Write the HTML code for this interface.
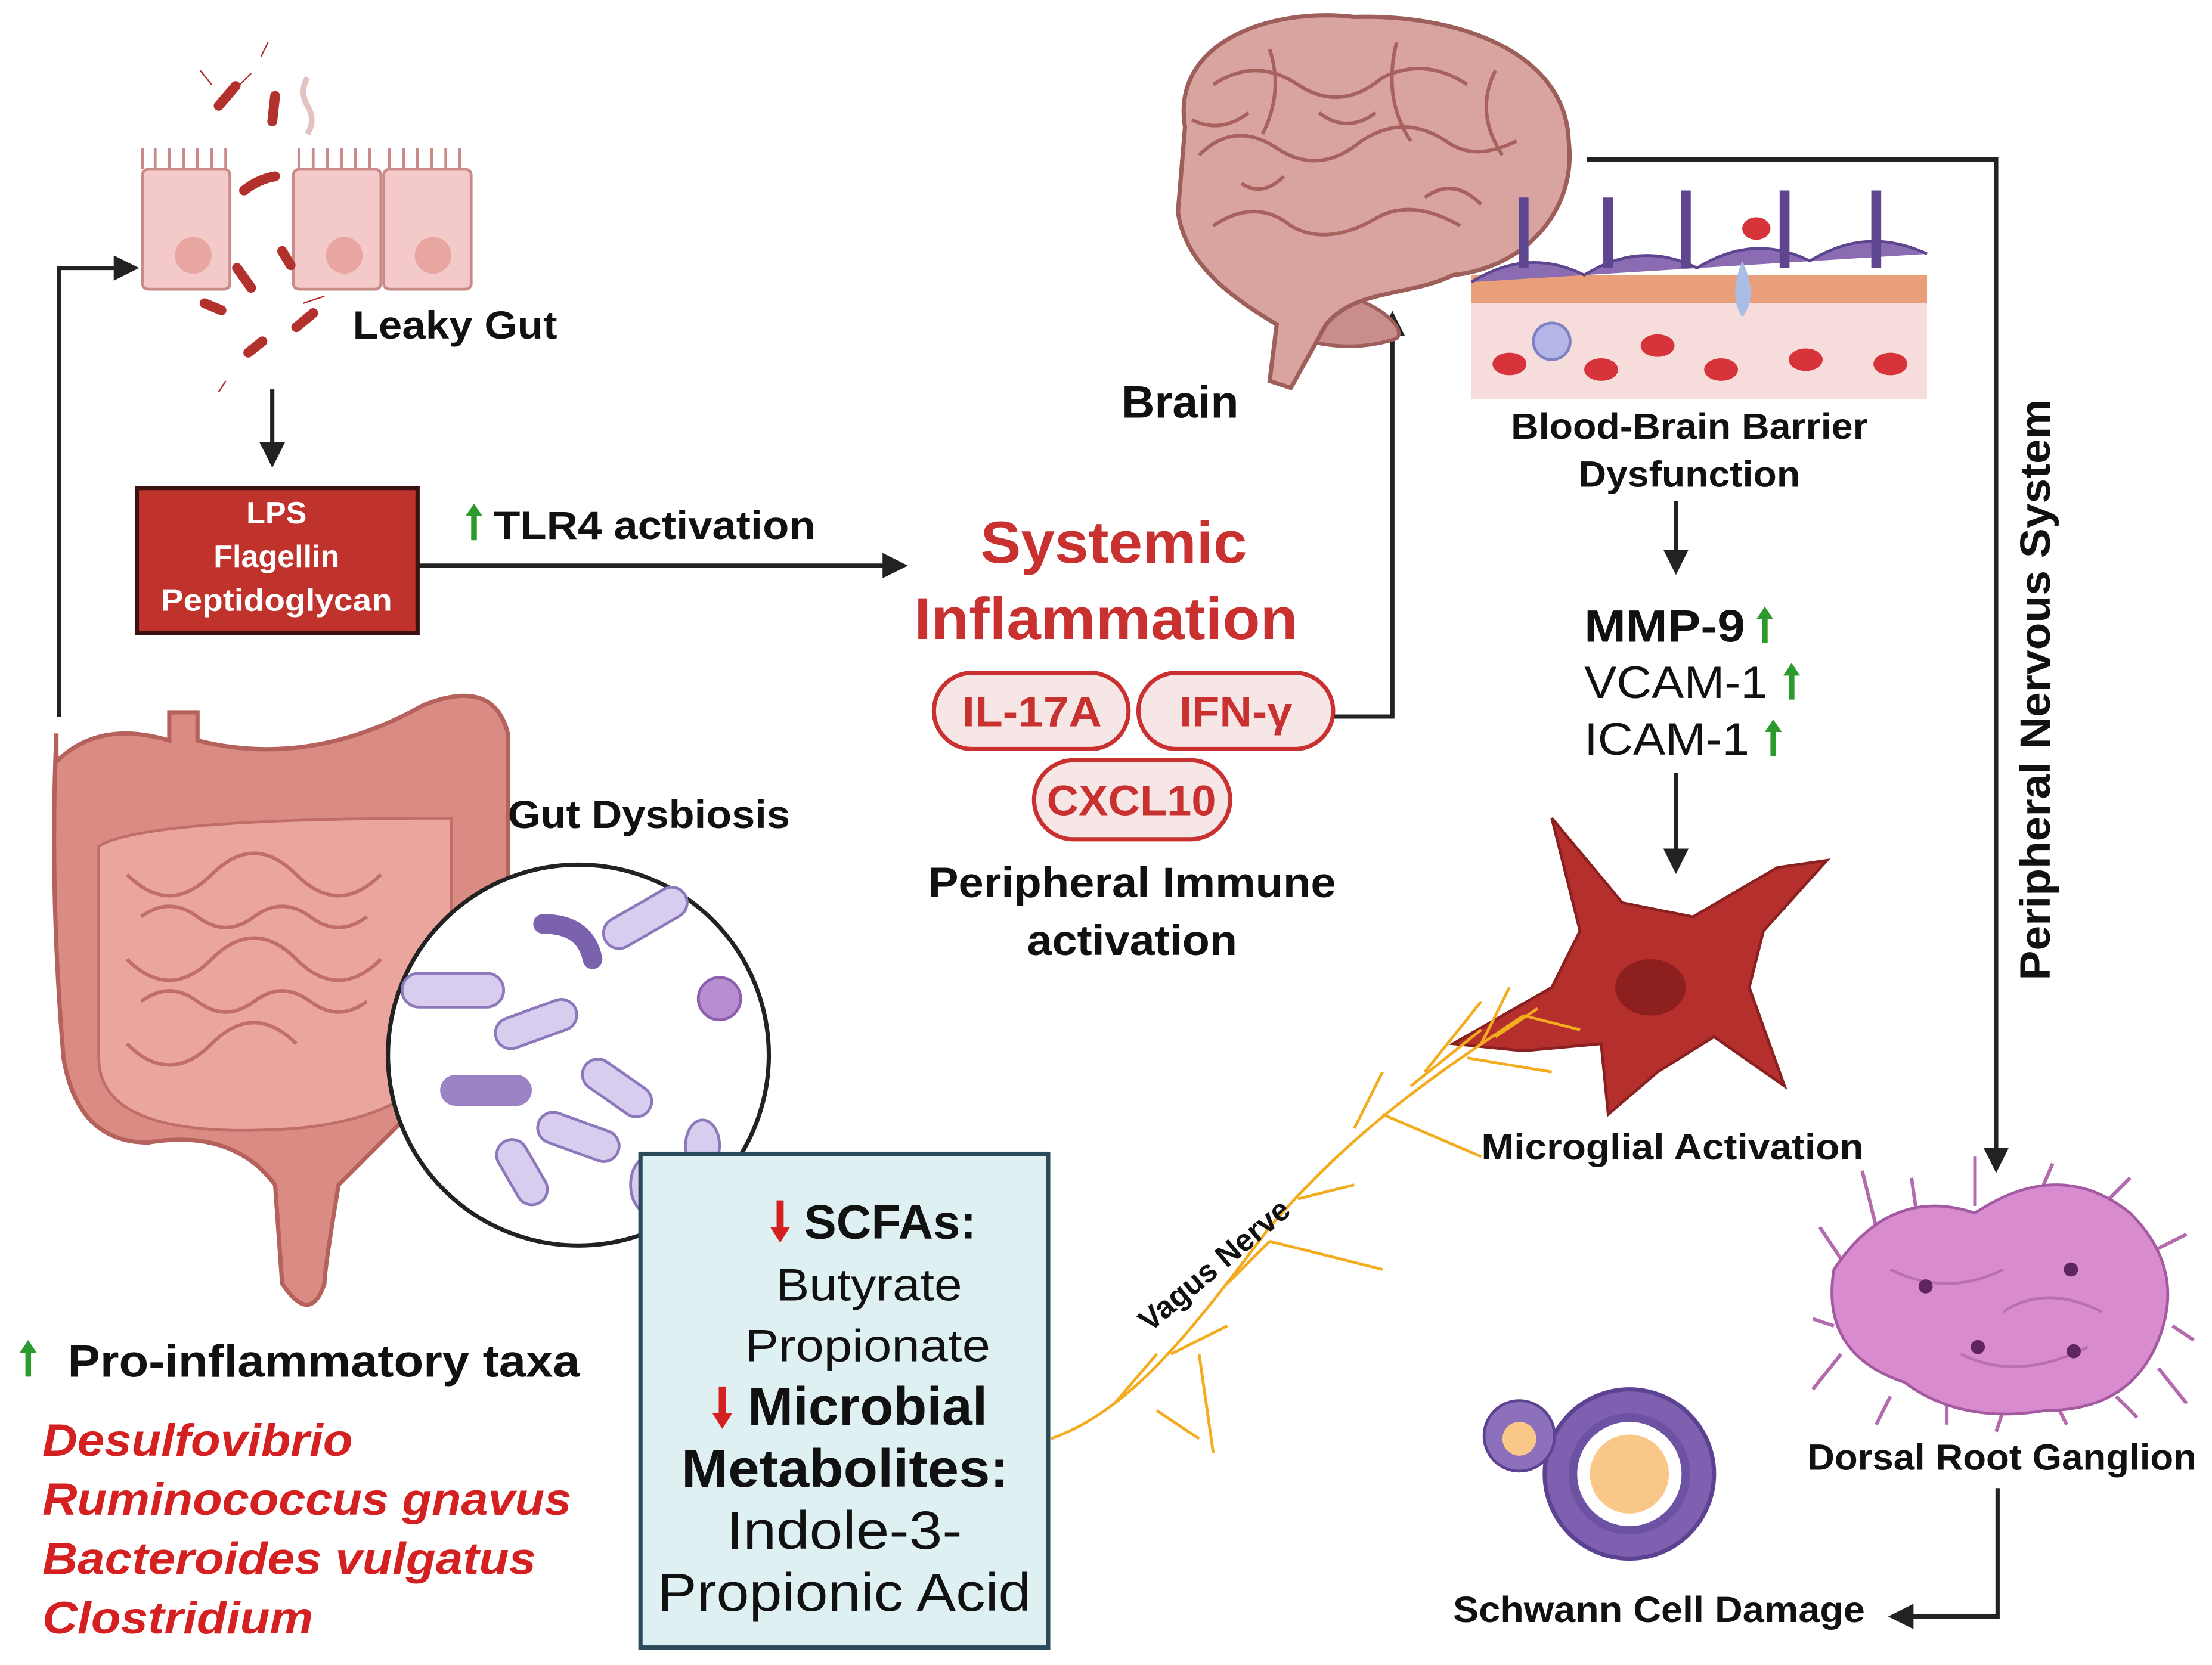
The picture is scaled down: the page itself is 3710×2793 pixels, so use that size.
<!DOCTYPE html>
<html><head><meta charset="utf-8"><style>
html,body{margin:0;padding:0;background:#fff}
svg{display:block}
text{font-family:"Liberation Sans",sans-serif}
</style></head><body>
<svg width="3710" height="2793" viewBox="0 0 1568 1180.4" xmlns="http://www.w3.org/2000/svg">
<defs>
<marker id="ah" viewBox="0 0 10 10" refX="8" refY="5" markerWidth="6" markerHeight="6" orient="auto-start-reverse"><path d="M0,0 L10,5 L0,10 z" fill="#222"/></marker>
<g id="gup"><path d="M0,0 L-6,9 L-2,9 L-2,26 L2,26 L2,9 L6,9 Z" fill="#2c9a2c"/></g>
<g id="rdn"><path d="M0,30 L-7,19 L-2.5,19 L-2.5,0 L2.5,0 L2.5,19 L7,19 Z" fill="#d42020"/></g>
</defs>
<rect width="1568" height="1181" fill="#fff"/>

<!-- Leaky gut cells -->
<g stroke="#c98a8a" stroke-width="2" fill="#f4c9c9">
<rect x="101" y="120" width="62" height="85" rx="4"/>
<rect x="208" y="120" width="62" height="85" rx="4"/>
<rect x="272" y="120" width="62" height="85" rx="4"/>
<path d="M101,120 v-15 M110,120 v-15 M120,120 v-15 M130,120 v-15 M140,120 v-15 M150,120 v-15 M160,120 v-15 M212,120 v-15 M222,120 v-15 M232,120 v-15 M242,120 v-15 M252,120 v-15 M262,120 v-15 M276,120 v-15 M286,120 v-15 M296,120 v-15 M306,120 v-15 M316,120 v-15 M326,120 v-15" fill="none"/>
</g>
<g fill="#e7a6a0"><circle cx="137" cy="181" r="13"/><circle cx="244" cy="181" r="13"/><circle cx="307" cy="181" r="13"/></g>
<g stroke="#b3312d" stroke-width="7" stroke-linecap="round" fill="none">
<path d="M155,75 l12,-14"/><path d="M195,68 l-2,18"/><path d="M173,135 q10,-8 22,-10"/><path d="M168,190 l10,14"/><path d="M200,178 l6,10"/><path d="M145,215 l12,5"/><path d="M210,232 l12,-10"/><path d="M176,250 l10,-8"/>
</g>
<g stroke="#b3312d" stroke-width="1" fill="none"><path d="M150,60 l-8,-10 M170,60 l8,-8 M215,215 l15,-5 M160,270 l-5,8 M185,40 l5,-10"/></g>
<path d="M218,55 q-6,10 0,20 q6,10 0,20" stroke="#e2c2c2" stroke-width="4" fill="none"/>
<text x="250" y="240" font-size="28" font-weight="bold" fill="#111" textLength="145" lengthAdjust="spacingAndGlyphs">Leaky Gut</text>
<line x1="193" y1="276" x2="193" y2="328" stroke="#222" stroke-width="3" marker-end="url(#ah)"/>

<rect x="97" y="346" width="199" height="103" fill="#c0322c" stroke="#3a1212" stroke-width="3"/>
<g font-size="22" font-weight="bold" fill="#fff" text-anchor="middle">
<text x="196" y="371">LPS</text><text x="196" y="402">Flagellin</text><text x="196" y="433" textLength="164" lengthAdjust="spacingAndGlyphs">Peptidoglycan</text>
</g>
<use href="#gup" x="336" y="357"/>
<text x="350" y="382" font-size="28" font-weight="bold" fill="#111" textLength="228" lengthAdjust="spacingAndGlyphs">TLR4 activation</text>
<line x1="297" y1="401" x2="640" y2="401" stroke="#222" stroke-width="3" marker-end="url(#ah)"/>

<!-- Systemic inflammation -->
<g font-size="42" font-weight="bold" fill="#c8312f">
<text x="695" y="399" textLength="189" lengthAdjust="spacingAndGlyphs">Systemic</text><text x="648" y="453" textLength="272" lengthAdjust="spacingAndGlyphs">Inflammation</text>
</g>
<g fill="#f7e6e6" stroke="#c8312f" stroke-width="3">
<rect x="662" y="477" width="138" height="54" rx="27"/>
<rect x="807" y="477" width="138" height="54" rx="27"/>
<rect x="733" y="539" width="139" height="56" rx="28"/>
</g>
<g font-size="30" font-weight="bold" fill="#c8312f">
<text x="682" y="515" textLength="99" lengthAdjust="spacingAndGlyphs">IL-17A</text><text x="836" y="515" textLength="80" lengthAdjust="spacingAndGlyphs">IFN-γ</text><text x="742" y="578" textLength="120" lengthAdjust="spacingAndGlyphs">CXCL10</text>
</g>
<g font-size="30" font-weight="bold" fill="#111">
<text x="658" y="636" textLength="289" lengthAdjust="spacingAndGlyphs">Peripheral Immune</text><text x="728" y="677" textLength="149" lengthAdjust="spacingAndGlyphs">activation</text>
</g>
<polyline points="946,508 987,508 987,224" fill="none" stroke="#222" stroke-width="3" marker-end="url(#ah)"/>

<!-- Brain -->
<path d="M908,205 C960,200 1000,230 990,240 C960,250 930,245 910,235 Z" fill="#c98e8b" stroke="#9e5f5b" stroke-width="2.5"/>
<path d="M840,90 C830,30 900,5 960,12 C1040,10 1110,40 1112,100 C1118,150 1080,190 1030,195 C1000,210 960,205 940,230 L915,275 L900,270 L905,230 C880,215 840,190 835,150 Z" fill="#d9a3a0" stroke="#9e5f5b" stroke-width="3"/>
<g fill="none" stroke="#a8625e" stroke-width="2.5">
<path d="M860,60 q30,-20 60,0 q30,20 60,-5 q30,-15 60,5"/><path d="M850,110 q25,-25 55,-5 q30,20 60,-5 q30,-20 60,0 q20,15 50,0"/>
<path d="M860,160 q30,-20 55,0 q25,15 60,-5 q25,-15 60,5"/><path d="M900,35 q10,30 -5,60"/><path d="M990,30 q-10,40 10,70"/><path d="M1060,50 q-15,30 5,60"/>
<path d="M845,85 q20,10 40,-5 M935,80 q20,15 40,0 M1010,140 q20,-15 40,5 M880,130 q15,10 30,-5"/>
</g>
<text x="795" y="296" font-size="32" font-weight="bold" fill="#111" textLength="83" lengthAdjust="spacingAndGlyphs">Brain</text>

<!-- BBB -->
<rect x="1043" y="210" width="323" height="73" fill="#f7dcdc"/>
<rect x="1043" y="195" width="323" height="20" fill="#e9a07a"/>
<path d="M1043,200 q40,-25 80,-5 q40,-25 80,-5 q40,-25 80,-5 q40,-25 83,-5" fill="#8b6bb1" stroke="#5d4590" stroke-width="2"/>
<g stroke="#5d4590" stroke-width="7" fill="none"><path d="M1080,190 v-50"/><path d="M1140,190 v-50"/><path d="M1195,190 v-55"/><path d="M1265,190 v-55"/><path d="M1330,190 v-55"/></g>
<g fill="#d6333a"><ellipse cx="1070" cy="258" rx="12" ry="8"/><ellipse cx="1135" cy="262" rx="12" ry="8"/><ellipse cx="1175" cy="245" rx="12" ry="8"/><ellipse cx="1220" cy="262" rx="12" ry="8"/><ellipse cx="1280" cy="255" rx="12" ry="8"/><ellipse cx="1340" cy="258" rx="12" ry="8"/><ellipse cx="1245" cy="162" rx="10" ry="8"/></g>
<circle cx="1100" cy="242" r="13" fill="#b3b6e6" stroke="#7d80c2" stroke-width="2"/>
<path d="M1235,185 q-10,25 0,40 q12,-15 0,-40z" fill="#a9bde6"/>
<g font-size="26" font-weight="bold" fill="#111">
<text x="1071" y="311" textLength="253" lengthAdjust="spacingAndGlyphs">Blood-Brain Barrier</text><text x="1119" y="345" textLength="157" lengthAdjust="spacingAndGlyphs">Dysfunction</text>
</g>
<line x1="1188" y1="355" x2="1188" y2="404" stroke="#222" stroke-width="3" marker-end="url(#ah)"/>
<g font-size="32" fill="#111">
<text x="1123" y="455" font-weight="bold" textLength="114" lengthAdjust="spacingAndGlyphs">MMP-9</text>
<text x="1123" y="495" textLength="130" lengthAdjust="spacingAndGlyphs">VCAM-1</text>
<text x="1123" y="535" textLength="117" lengthAdjust="spacingAndGlyphs">ICAM-1</text>
</g>
<use href="#gup" x="1251" y="430"/><use href="#gup" x="1270" y="470"/><use href="#gup" x="1257" y="510"/>
<line x1="1188" y1="548" x2="1188" y2="616" stroke="#222" stroke-width="3" marker-end="url(#ah)"/>

<!-- Microglia -->
<path d="M1100,580 L1150,640 L1200,650 L1260,615 L1295,610 L1250,660 L1240,700 L1265,770 L1215,735 L1175,760 L1140,790 L1135,740 L1080,745 L1030,740 L1100,700 L1120,660 Z" fill="#b5302c" stroke="#8a2020" stroke-width="2"/>
<ellipse cx="1170" cy="700" rx="25" ry="20" fill="#8e1f1f"/>
<text x="1050" y="822" font-size="26" font-weight="bold" fill="#111" textLength="271" lengthAdjust="spacingAndGlyphs">Microglial Activation</text>

<!-- Vagus nerve -->
<g stroke="#f2ac1e" stroke-width="2" fill="none">
<path d="M745,1020 C800,1000 840,950 900,870 C960,800 1020,760 1080,720"/>
<path d="M790,995 l30,-35 M830,960 l40,-20 M870,910 l30,-30 M920,850 l40,-10 M960,800 l20,-40 M1000,770 l50,-40 M1040,750 l60,10 M1050,740 l20,-40 M1080,720 l40,10 M980,790 l70,30 M900,880 l80,20 M1010,760 l40,-50 M1060,735 l30,-20 M820,1000 l30,20 M850,960 l10,70"/>
</g>
<text x="0" y="0" font-size="22" font-weight="bold" fill="#111" transform="translate(815,945) rotate(-40)">Vagus Nerve</text>

<!-- PNS -->
<polyline points="1125,113 1415,113 1415,828" fill="none" stroke="#222" stroke-width="3" marker-end="url(#ah)"/>
<text x="0" y="0" font-size="30" font-weight="bold" fill="#111" text-anchor="middle" transform="translate(1453,489) rotate(-90)" textLength="412" lengthAdjust="spacingAndGlyphs">Peripheral Nervous System</text>

<!-- DRG -->
<g stroke="#b36bad" stroke-width="2.5" fill="none"><path d="M1310,900 l-20,-30 M1330,870 l-10,-40 M1360,870 l-5,-35 M1400,855 l0,-35 M1440,860 l15,-35 M1480,865 l30,-30 M1520,890 l30,-15 M1540,940 l15,10 M1530,970 l20,25 M1300,940 l-15,-5 M1305,960 l-20,25 M1340,990 l-10,20 M1380,995 l0,15 M1460,1000 l5,10 M1420,1000 l-5,15 M1500,990 l15,15"/></g>
<g fill="#d98bd0" stroke="#a45aa0" stroke-width="2">
<path d="M1300,900 q40,-60 100,-40 q60,-40 110,0 q40,40 20,90 q-20,50 -80,50 q-60,10 -100,-20 q-60,-20 -50,-80z"/>
</g>
<g fill="none" stroke="#b870b2" stroke-width="2"><path d="M1340,900 q40,20 80,0 M1420,930 q30,-20 70,0 M1390,960 q40,20 90,-5"/></g>
<g fill="#5e2560"><circle cx="1365" cy="912" r="5"/><circle cx="1468" cy="900" r="5"/><circle cx="1402" cy="955" r="5"/><circle cx="1470" cy="958" r="5"/></g>
<text x="1281" y="1042" font-size="26" font-weight="bold" fill="#111" textLength="276" lengthAdjust="spacingAndGlyphs">Dorsal Root Ganglion</text>
<polyline points="1416,1055 1416,1146 1342,1146" fill="none" stroke="#222" stroke-width="3" marker-end="url(#ah)"/>

<!-- Schwann -->
<circle cx="1155" cy="1045" r="60" fill="#7f5fb0" stroke="#5c4290" stroke-width="3"/>
<circle cx="1155" cy="1045" r="40" fill="#fff" stroke="#6d52a3" stroke-width="6"/>
<circle cx="1155" cy="1045" r="28" fill="#f9c888"/>
<circle cx="1077" cy="1018" r="25" fill="#8c70bb" stroke="#5c4290" stroke-width="2"/>
<circle cx="1077" cy="1020" r="12" fill="#f9c888"/>
<text x="1030" y="1150" font-size="26" font-weight="bold" fill="#111" textLength="292" lengthAdjust="spacingAndGlyphs">Schwann Cell Damage</text>

<!-- Gut -->
<path d="M40,540 q30,-30 80,-15 l0,-20 l20,0 l0,20 q80,20 160,-25 q50,-20 60,20 l0,180 q-10,60 -60,80 l-60,60 q-10,60 -10,70 q-10,30 -30,0 l-5,-70 q-30,-40 -90,-30 q-50,0 -60,-60 q-10,-120 -5,-230z" fill="#d98b84" stroke="#b5625c" stroke-width="3"/>
<path d="M70,600 q30,-20 250,-20 l0,150 q-10,60 -110,70 q-140,10 -140,-50z" fill="#e9a59e" stroke="#c06e67" stroke-width="2"/>
<g fill="none" stroke="#c06e67" stroke-width="2.5"><path d="M90,620 q30,30 60,0 q30,-30 60,0 q30,30 60,0"/><path d="M90,680 q30,30 60,0 q30,-30 60,0 q30,30 60,0"/><path d="M90,740 q30,30 60,0 q30,-30 60,0"/><path d="M100,650 q20,-15 40,0 q20,15 40,0 q20,-15 40,0 q20,15 40,0"/><path d="M100,710 q20,-15 40,0 q20,15 40,0 q20,-15 40,0 q20,15 40,0"/></g>
<text x="360" y="587" font-size="28" font-weight="bold" fill="#111" textLength="200" lengthAdjust="spacingAndGlyphs">Gut Dysbiosis</text>
<circle cx="410" cy="748" r="135" fill="#fff" stroke="#222" stroke-width="3"/>
<g fill="#d9cdef" stroke="#8c78bb" stroke-width="2">
<rect x="285" y="690" width="72" height="24" rx="12"/><rect x="425" y="640" width="65" height="22" rx="11" transform="rotate(-30 457 651)"/>
<rect x="350" y="715" width="60" height="22" rx="11" transform="rotate(-20 380 726)"/><rect x="410" y="760" width="55" height="22" rx="11" transform="rotate(35 437 771)"/>
<rect x="380" y="795" width="60" height="22" rx="11" transform="rotate(20 410 806)"/><rect x="345" y="820" width="50" height="22" rx="11" transform="rotate(60 370 831)"/>
<ellipse cx="460" cy="840" rx="13" ry="20"/><ellipse cx="498" cy="812" rx="12" ry="18"/>
</g>
<rect x="312" y="762" width="65" height="22" rx="11" fill="#9a82c4"/>
<path d="M385,655 q30,0 35,25" stroke="#7a62ae" stroke-width="14" fill="none" stroke-linecap="round"/>
<circle cx="510" cy="708" r="15" fill="#b78ed0" stroke="#8c5fb0" stroke-width="2"/>

<polyline points="42,508 42,190 95,190" fill="none" stroke="#222" stroke-width="3" marker-end="url(#ah)"/>

<use href="#gup" x="20" y="950"/>
<text x="48" y="976" font-size="32" font-weight="bold" fill="#111" textLength="363" lengthAdjust="spacingAndGlyphs">Pro-inflammatory taxa</text>
<g font-size="32" font-weight="bold" font-style="italic" fill="#d42020">
<text x="30" y="1032" textLength="220" lengthAdjust="spacingAndGlyphs">Desulfovibrio</text><text x="30" y="1074" textLength="375" lengthAdjust="spacingAndGlyphs">Ruminococcus gnavus</text><text x="30" y="1116" textLength="350" lengthAdjust="spacingAndGlyphs">Bacteroides vulgatus</text><text x="30" y="1158" textLength="192" lengthAdjust="spacingAndGlyphs">Clostridium</text>
</g>

<!-- SCFA box -->
<rect x="454" y="818" width="289" height="350" fill="#dff0f3" stroke="#2a4a5a" stroke-width="3"/>
<use href="#rdn" x="553" y="851"/>
<use href="#rdn" x="512" y="983"/>
<g fill="#111">
<text x="570" y="878" font-size="34" font-weight="bold" textLength="122" lengthAdjust="spacingAndGlyphs">SCFAs:</text>
<text x="550" y="922" font-size="32" textLength="132" lengthAdjust="spacingAndGlyphs">Butyrate</text>
<text x="528" y="965" font-size="32" textLength="174" lengthAdjust="spacingAndGlyphs">Propionate</text>
<text x="530" y="1010" font-size="38" font-weight="bold" textLength="170" lengthAdjust="spacingAndGlyphs">Microbial</text>
<text x="483" y="1054" font-size="38" font-weight="bold" textLength="232" lengthAdjust="spacingAndGlyphs">Metabolites:</text>
<text x="515" y="1098" font-size="38" textLength="167" lengthAdjust="spacingAndGlyphs">Indole-3-</text>
<text x="466" y="1142" font-size="38" textLength="265" lengthAdjust="spacingAndGlyphs">Propionic Acid</text>
</g>
</svg>
</body></html>
